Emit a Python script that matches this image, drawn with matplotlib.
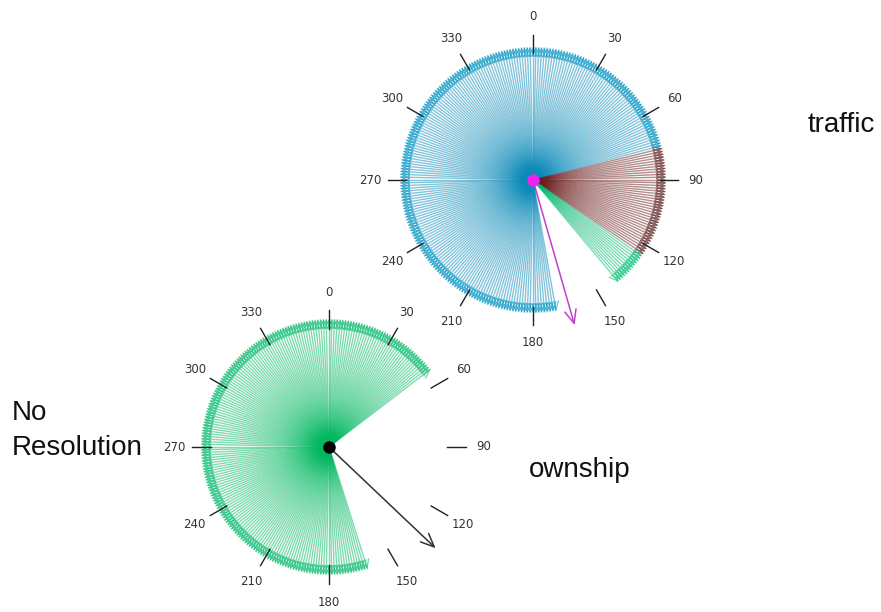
import numpy as np
import matplotlib
matplotlib.use("Agg")
import matplotlib.pyplot as plt

# ---- data ----
bearing_ticks = [0, 30, 60, 90, 120, 150, 180, 210, 240, 270, 300, 330]
tick_labels = [str(b) for b in bearing_ticks]
fan_step = 1.25  # degrees between candidate headings

# traffic fan sectors (clockwise bearings, degrees)
traffic_from = [170.0, 76.25, 125.0]
traffic_to = [435.0, 123.75, 140.0]
traffic_colors = ["#0a8ab8", "#6a1c1c", "#00b870"]
traffic_head_colors = ["#2aa6cc", "#7a4a4a", "#2ecb8d"]
traffic_velocity = (164.0, 151.0)   # bearing, length

# ownship fan sectors
ownship_from = [162.5]
ownship_to = [412.5]
ownship_colors = ["#00b860"]
ownship_head_colors = ["#2ec585"]
ownship_velocity = (133.5, 147.0)

# ---- layout ----
W, H = 881, 612
fig = plt.figure(figsize=(W / 100, H / 100), dpi=100)
ax = fig.add_axes([0, 0, 1, 1])
ax.set_xlim(0, W)
ax.set_ylim(H, 0)
ax.axis("off")


def pt(c, brg, r):
    t = np.radians(brg)
    return c[0] + r * np.sin(t), c[1] - r * np.cos(t)


def draw_dial(c, r_fan, tick_r0, tick_r1, lab_r, froms, tos, cols, hcols,
              vel, vel_col, dot_col):
    for a0, a1, col, hc in zip(froms, tos, cols, hcols):
        for b in np.arange(a0, a1 + 1e-6, fan_step):
            tip = pt(c, b, r_fan)
            ax.plot([c[0], tip[0]], [c[1], tip[1]], color=col, lw=1.0,
                    alpha=0.5, solid_capstyle="butt", zorder=2)
            ax.annotate("", xy=tip, xytext=pt(c, b, r_fan - 9),
                        arrowprops=dict(arrowstyle="->,head_length=0.5,head_width=0.25",
                                        lw=0.8, shrinkA=0, shrinkB=0,
                                        mutation_scale=12, color=hc, alpha=0.75),
                        zorder=3)
    for b, lab in zip(bearing_ticks, tick_labels):
        p0 = pt(c, b, tick_r0)
        p1 = pt(c, b, tick_r1)
        ax.plot([p0[0], p1[0]], [p0[1], p1[1]], color="#222222", lw=1.0, zorder=5)
        lp = pt(c, b, lab_r)
        ax.text(lp[0], lp[1], lab, ha="center", va="center", fontsize=8.5,
                color="#333333", family="DejaVu Sans")
    ax.annotate("", xy=pt(c, vel[0], vel[1]), xytext=c,
                arrowprops=dict(arrowstyle="->,head_length=0.8,head_width=0.35",
                                color=vel_col, lw=1.1, shrinkA=0, shrinkB=0,
                                mutation_scale=12), zorder=6)
    ax.plot([c[0]], [c[1]], "o", color=dot_col, ms=8, zorder=7)


draw_dial((533, 180), 133, 127, 145, 163, traffic_from, traffic_to,
          traffic_colors, traffic_head_colors, traffic_velocity, "#c040c8", "#ee22ee")
draw_dial((329, 447), 128, 118, 137, 155, ownship_from, ownship_to,
          ownship_colors, ownship_head_colors, ownship_velocity, "#333333", "#000000")

big = dict(fontsize=20, family="Liberation Sans", color="#111111", va="center", ha="left")
ax.text(808, 125, "traffic", **big)
ax.text(12, 413, "No", **big)
ax.text(12, 448, "Resolution", **big)
ax.text(529, 470, "ownship", **big)

fig.savefig("out.png", dpi=100)
